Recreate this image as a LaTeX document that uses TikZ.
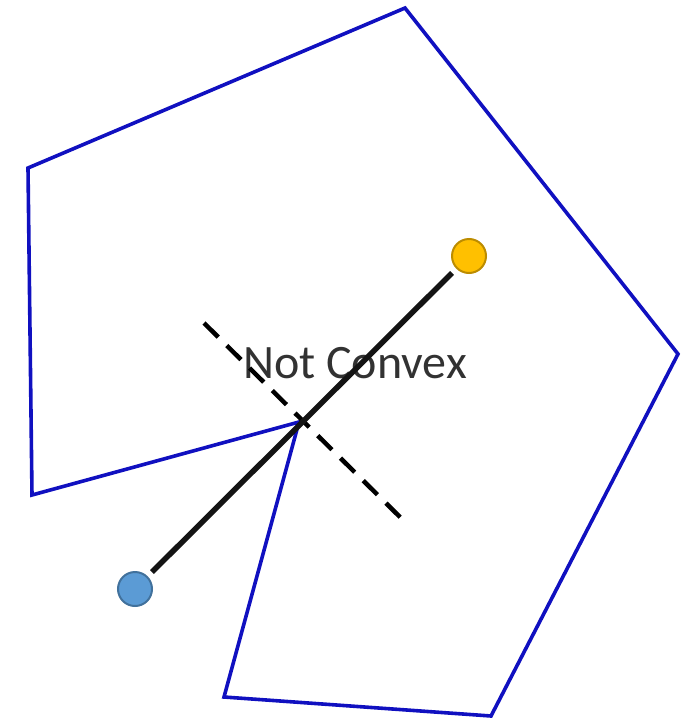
\documentclass[tikz,border=0pt]{standalone}
\usepackage{fontspec}
\setmainfont{Carlito}
\begin{document}
\begin{tikzpicture}[x=1pt,y=-1pt,
  poly/.style={draw={rgb,255:red,16;green,16;blue,192},line width=3.6pt,line join=miter},
  seg/.style={draw={rgb,255:red,20;green,20;blue,20},line width=5.5pt},
  cut/.style={draw=black,line width=4.5pt,dash pattern=on 20pt off 12pt},
  bluedot/.style={circle,minimum size=34pt,inner sep=0pt,fill={rgb,255:red,91;green,155;blue,213},draw={rgb,255:red,65;green,113;blue,156},line width=2pt},
  golddot/.style={circle,minimum size=34pt,inner sep=0pt,fill={rgb,255:red,255;green,192;blue,0},draw={rgb,255:red,188;green,140;blue,0},line width=2pt},
  lbl/.style={text={rgb,255:red,50;green,50;blue,50},font=\fontsize{48}{54}\selectfont,inner sep=0pt}]
\useasboundingbox (0,0) rectangle (692,720);
\coordinate (p1) at (405,8);
\coordinate (p2) at (678,354);
\coordinate (p3) at (491,716);
\coordinate (p4) at (224,697);
\coordinate (p5) at (299,422);
\coordinate (p6) at (32,495);
\coordinate (p7) at (28,168);
\draw[poly] (p1) -- (p2) -- (p3) -- (p4) -- (p5) -- (p6) -- (p7) -- cycle;
\coordinate (c1) at (204,323);
\coordinate (c2) at (403,520);
\node[lbl] (t) at (355,363) {Not Convex};
\draw[cut] (c1) -- (c2);
\node[bluedot] (a) at (135,589) {};
\node[golddot] (b) at (469,256) {};
\draw[seg,shorten <=6pt,shorten >=6pt] (a) -- (b);
\end{tikzpicture}
\end{document}
